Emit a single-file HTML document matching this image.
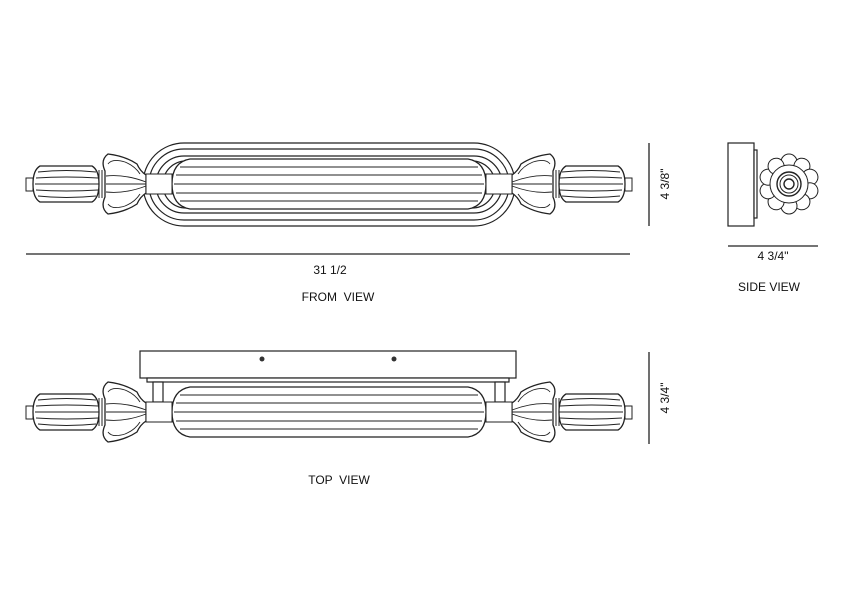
<!DOCTYPE html>
<html><head><style>
html,body{margin:0;padding:0;background:#fff;}
svg{display:block;}
text{font-family:"Liberation Sans",sans-serif;font-size:12px;fill:#111;}
</style></head><body>
<svg width="850" height="601" viewBox="0 0 850 601" xmlns="http://www.w3.org/2000/svg">
<defs>
<g id="endL" fill="none" stroke="#222" stroke-width="1">
  <rect x="26" y="-6" width="7" height="13" fill="#fff"/>
  <path d="M40,-18 L92,-18 Q99,-14 99,0 Q99,14 92,18 L40,18 Q33,14 33,0 Q33,-14 40,-18 Z" fill="#fff" stroke-width="1.3"/>
  <path d="M38,-12 Q66,-15 96,-12 M36,-6 Q66,-8 98,-6 M35,0 L99,0 M36,6 Q66,8 98,6 M38,12 Q66,15 96,12" stroke-width="0.9"/>
  <line x1="99" y1="-14" x2="99" y2="14"/><line x1="102" y1="-14" x2="102" y2="14"/><line x1="105" y1="-13" x2="105" y2="13"/>
  <path d="M105,-13 Q100,-24 108,-30 Q125,-28 137,-20 Q140,-13 146,-9 L146,9 Q140,13 137,20 Q125,28 108,30 Q100,24 105,13 Z" fill="#fff" stroke-width="1.3"/>
  <path d="M108,-20 Q112,-26 125,-22 Q135,-18 140,-10 M108,20 Q112,26 125,22 Q135,18 140,10 M106,-8 Q125,-10 146,-2 M106,8 Q125,10 146,2 M106,0 L146,0" stroke-width="0.9"/>
  <rect x="146" y="-10" width="26" height="20" fill="#fff"/>
</g>
<g id="tube" fill="none" stroke="#222">
  <path d="M190,-25 L468,-25 Q486,-22 486,0 Q486,22 468,25 L190,25 Q172,22 172,0 Q172,-22 190,-25 Z" fill="#fff" stroke-width="1.3"/>
  <path d="M180,-17 L478,-17 M176,-9 L482,-9 M174,0 L484,0 M176,9 L482,9 M180,17 L478,17" stroke-width="0.9"/>
</g>
</defs>

<g transform="translate(0,184)">
  <g fill="none" stroke="#222" stroke-width="1.2">
    <rect x="143" y="-41" width="372" height="83" rx="41"/>
    <rect x="149" y="-35" width="360" height="71" rx="35"/>
    <rect x="156" y="-28" width="346" height="57" rx="28"/>
    <rect x="163" y="-23" width="332" height="47" rx="23"/>
  </g>
  <use href="#tube"/>
  <use href="#endL"/>
  <use href="#endL" transform="translate(658,0) scale(-1,1)"/>
</g>

<g fill="#fff" stroke="#222" stroke-width="1.2">
  <rect x="140" y="351" width="376" height="27"/>
  <rect x="147" y="378" width="362" height="4"/>
  <rect x="153" y="382" width="10" height="20"/>
  <rect x="495" y="382" width="10" height="20"/>
</g>
<circle cx="262" cy="359" r="2.5" fill="#333"/>
<circle cx="394" cy="359" r="2.5" fill="#333"/>
<g transform="translate(0,412)">
  <use href="#tube"/>
  <use href="#endL"/>
  <use href="#endL" transform="translate(658,0) scale(-1,1)"/>
</g>

<g fill="#fff" stroke="#222" stroke-width="1.2">
  <rect x="728" y="143" width="26" height="83"/>
  <rect x="754" y="150" width="3" height="68"/>
</g>
<g transform="translate(789,184)" fill="#fff" stroke="#222" stroke-width="1">
  <g id="pet">
    <circle cx="0" cy="-22" r="8"/>
  </g>
  <use href="#pet" transform="rotate(36)"/>
  <use href="#pet" transform="rotate(72)"/>
  <use href="#pet" transform="rotate(108)"/>
  <use href="#pet" transform="rotate(144)"/>
  <use href="#pet" transform="rotate(180)"/>
  <use href="#pet" transform="rotate(216)"/>
  <use href="#pet" transform="rotate(252)"/>
  <use href="#pet" transform="rotate(288)"/>
  <use href="#pet" transform="rotate(324)"/>
  <circle r="19"/>
  <circle r="12" stroke-width="1.4"/>
  <circle r="9"/>
  <circle r="5" stroke-width="1.4"/>
</g>

<g stroke="#222" stroke-width="1.3">
  <line x1="26" y1="254" x2="630" y2="254"/>
  <line x1="649" y1="143" x2="649" y2="226"/>
  <line x1="649" y1="352" x2="649" y2="444"/>
  <line x1="728" y1="246" x2="818" y2="246"/>
</g>
<text x="330" y="274" text-anchor="middle">31 1/2</text>
<text x="338" y="301" text-anchor="middle">FROM &#160;VIEW</text>
<text x="339" y="484" text-anchor="middle">TOP &#160;VIEW</text>
<text x="773" y="260" text-anchor="middle">4 3/4"</text>
<text x="769" y="291" text-anchor="middle">SIDE VIEW</text>
<text transform="translate(669,184) rotate(-90)" text-anchor="middle">4 3/8"</text>
<text transform="translate(669,398) rotate(-90)" text-anchor="middle">4 3/4"</text>
</svg>
</body></html>
